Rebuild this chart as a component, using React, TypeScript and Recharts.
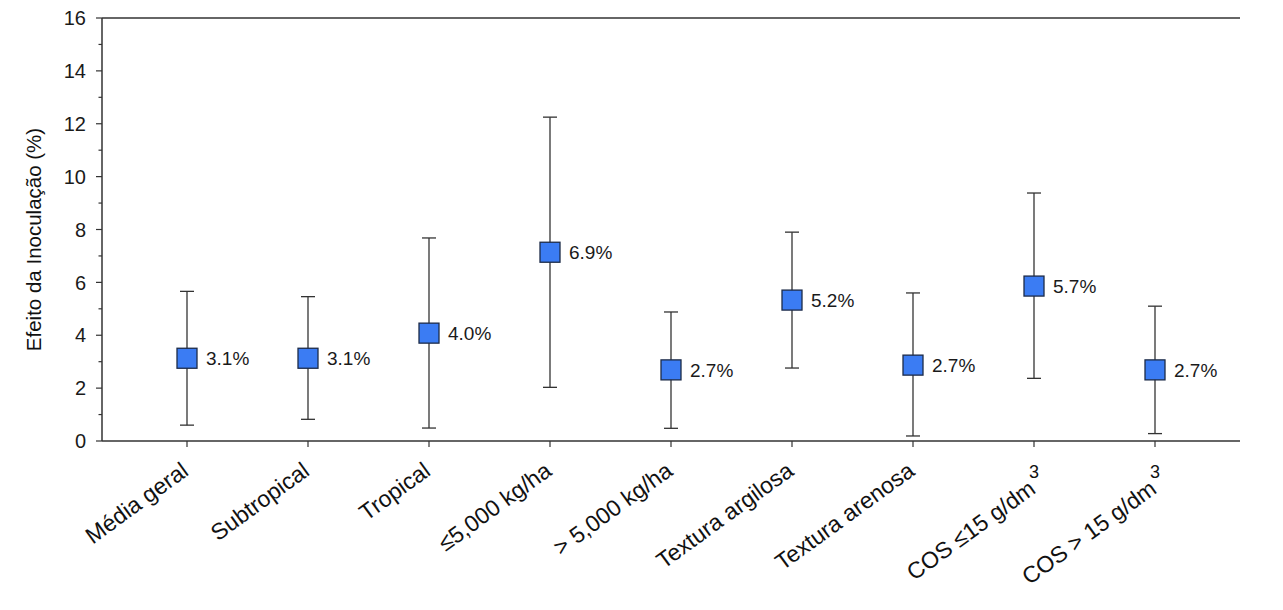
import React from 'react';
import { ComposedChart, Line, XAxis, YAxis, ErrorBar, Label, ReferenceLine } from 'recharts';

const categories = [
  'Média geral',
  'Subtropical',
  'Tropical',
  '≤5,000 kg/ha',
  '> 5,000 kg/ha',
  'Textura argilosa',
  'Textura arenosa',
  'COS ≤15 g/dm³',
  'COS > 15 g/dm³',
];
const means = [3.13, 3.13, 4.08, 7.14, 2.69, 5.33, 2.87, 5.86, 2.69];
const lowers = [0.6, 0.82, 0.49, 2.03, 0.48, 2.76, 0.19, 2.37, 0.28];
const uppers = [5.66, 5.46, 7.68, 12.25, 4.88, 7.9, 5.6, 9.38, 5.1];
const valueLabels = ['3.1%', '3.1%', '4.0%', '6.9%', '2.7%', '5.2%', '2.7%', '5.7%', '2.7%'];
const yTicks = [0, 1, 2, 3, 4, 5, 6, 7, 8, 9, 10, 11, 12, 13, 14, 15, 16];
const yMax = 16;
const yTitle = 'Efeito da Inoculação (%)';

const data = categories.map((cat, i) => ({
  cat,
  mean: means[i],
  err: [means[i] - lowers[i], uppers[i] - means[i]],
  label: valueLabels[i],
}));

const FONT = '"Liberation Sans", Arial, Helvetica, sans-serif';
const AXIS = '#333333';

const SquareDot = (props: any) => {
  const { cx, cy, payload } = props;
  if (cx == null || cy == null) return null;
  const s = 20;
  return (
    <g>
      <rect x={cx - s / 2} y={cy - s / 2} width={s} height={s} fill="#3b7cf3" stroke="#1d2b48" strokeWidth={1.3} />
      <text x={cx + 19} y={cy} dy="0.36em" fontSize={19} fontFamily={FONT} fill="#1a1a1a">
        {payload.label}
      </text>
    </g>
  );
};

const YTick = (props: any) => {
  const { x, y, payload } = props;
  const v = payload.value;
  const major = v % 2 === 0;
  return (
    <g>
      <line x1={x} x2={x - (major ? 6 : 3.5)} y1={y} y2={y} stroke={AXIS} strokeWidth={1.2} />
      {major && (
        <text x={x - 16} y={y} dy="0.36em" textAnchor="end" fontSize={20} fontFamily={FONT} fill="#1a1a1a">
          {v}
        </text>
      )}
    </g>
  );
};

const XTick = (props: any) => {
  const { x, y, payload } = props;
  const label: string = String(payload.value);
  const sup = label.endsWith('³');
  const main = sup ? label.slice(0, -1) : label;
  const ex = x + 3;
  const ey = sup ? y + 45 : y + 27;
  return (
    <g>
      <text
        x={ex}
        y={ey}
        textAnchor="end"
        fontSize={23}
        fontFamily={FONT}
        fill="#111"
        transform={`rotate(-36, ${ex}, ${ey})`}
      >
        {main}
      </text>
      {sup && (
        <text x={x} y={y + 31} textAnchor="middle" fontSize={18} fontFamily={FONT} fill="#111">
          3
        </text>
      )}
    </g>
  );
};

export default function App() {
  return (
    <div style={{ position: 'absolute', left: 0, top: 0, background: '#fff' }}>
      <ComposedChart width={1283} height={610} data={data} margin={{ top: 18, right: 43, bottom: 0, left: 0 }}>
        <XAxis
          dataKey="cat"
          type="category"
          height={169}
          interval={0}
          padding={{ left: 85, right: 85 }}
          axisLine={{ stroke: AXIS, strokeWidth: 1.5 }}
          tickLine={{ stroke: AXIS, strokeWidth: 1.2 }}
          tickSize={6}
          tickMargin={0}
          tick={<XTick />}
        />
        <YAxis
          type="number"
          domain={[0, yMax]}
          ticks={yTicks}
          interval={0}
          width={102}
          tickSize={0}
          tickMargin={0}
          tickLine={false}
          axisLine={{ stroke: AXIS, strokeWidth: 1.5 }}
          tick={<YTick />}
        >
          <Label
            content={(p: any) => {
              const vb = p.viewBox || { x: 0, y: 18, width: 102, height: 423 };
              const cx = vb.x + 34;
              const cy = vb.y + vb.height / 2 + 10;
              return (
                <text
                  x={cx}
                  y={cy}
                  transform={`rotate(-90, ${cx}, ${cy})`}
                  textAnchor="middle"
                  dy="0.36em"
                  fontSize={20.5}
                  fontFamily={FONT}
                  fill="#111"
                >
                  {yTitle}
                </text>
              );
            }}
          />
        </YAxis>
        <YAxis
          yAxisId="right"
          orientation="right"
          type="number"
          domain={[0, yMax]}
          width={0}
          tick={false}
          tickLine={false}
          axisLine={{ stroke: AXIS, strokeWidth: 1.5 }}
        />
        <ReferenceLine y={yMax} stroke={AXIS} strokeWidth={1.5} ifOverflow="visible" />
        <Line
          dataKey="mean"
          stroke="none"
          isAnimationActive={false}
          dot={<SquareDot />}
          activeDot={false}
        >
          <ErrorBar dataKey="err" direction="y" width={7} stroke="#333" strokeWidth={1.3} />
        </Line>
      </ComposedChart>
    </div>
  );
}
